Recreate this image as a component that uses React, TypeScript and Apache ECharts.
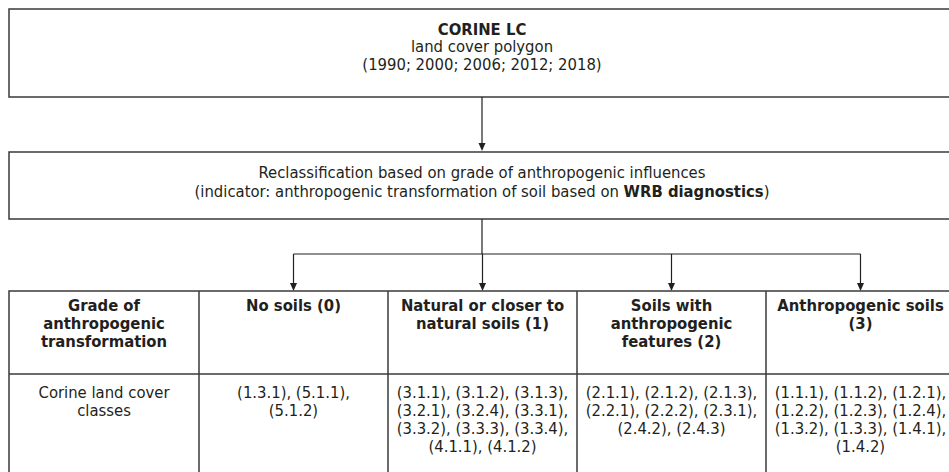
import React, { useEffect, useRef } from "react";
import * as echarts from "echarts";

const topBoxLines = ["{b|CORINE LC}", "land cover polygon", "(1990; 2000; 2006; 2012; 2018)"];
const middleBoxLines = [
  "Reclassification based on grade of anthropogenic influences",
  "(indicator: anthropogenic transformation of soil based on {b|WRB diagnostics})",
];
const headers = [
  "Grade of\nanthropogenic\ntransformation",
  "No soils (0)",
  "Natural or closer to\nnatural soils (1)",
  "Soils with\nanthropogenic\nfeatures (2)",
  "Anthropogenic soils\n(3)",
];
const rowLabel = "Corine land cover\nclasses";
const classCells = [
  "(1.3.1), (5.1.1),\n(5.1.2)",
  "(3.1.1), (3.1.2), (3.1.3),\n(3.2.1), (3.2.4), (3.3.1),\n(3.3.2), (3.3.3), (3.3.4),\n(4.1.1), (4.1.2)",
  "(2.1.1), (2.1.2), (2.1.3),\n(2.2.1), (2.2.2), (2.3.1),\n(2.4.2), (2.4.3)",
  "(1.1.1), (1.1.2), (1.2.1),\n(1.2.2), (1.2.3), (1.2.4),\n(1.3.2), (1.3.3), (1.4.1),\n(1.4.2)",
];

const FONT = "'DejaVu Sans Condensed', 'Liberation Sans Narrow', sans-serif";
const INK = "#231f20";
const LINE = "#3a3a3a";
const FS = 16.5;

export default function App() {
  const ref = useRef<HTMLDivElement>(null);
  useEffect(() => {
    if (!ref.current) return;
    const chart = echarts.init(ref.current, null, { renderer: "svg" });

    const L = 9;
    const R = 955;
    const cx = 482;
    const colX = [9, 199, 388, 577, 766, 955];
    const tableTop = 291;
    const headBottom = 374;
    const tableBottom = 490;
    const branchY = 254;

    const els: any[] = [];
    const box = (y1: number, y2: number) =>
      els.push({
        type: "rect",
        shape: { x: L, y: y1, width: R - L, height: y2 - y1 },
        style: { fill: "#fff", stroke: LINE, lineWidth: 1.5 },
      });
    const vline = (x: number, y1: number, y2: number) =>
      els.push({
        type: "line",
        shape: { x1: x, y1, x2: x, y2 },
        style: { stroke: INK, lineWidth: 1.2 },
      });
    const arrow = (x: number, y1: number, y2: number) => {
      vline(x, y1, y2 - 4);
      els.push({
        type: "polygon",
        shape: { points: [[x - 3.5, y2 - 8], [x + 3.5, y2 - 8], [x, y2]] },
        style: { fill: INK },
      });
    };
    const richB = { b: { font: `bold ${FS}px ${FONT}`, fill: INK, lineHeight: 18 } };
    const text = (x: number, y: number, t: string, bold: boolean, lh = 18) =>
      els.push({
        type: "text",
        x,
        y,
        style: {
          text: t,
          font: `${bold ? "bold " : ""}${FS}px ${FONT}`,
          fill: INK,
          align: "center",
          verticalAlign: "top",
          lineHeight: lh,
          rich: richB,
        },
      });

    box(9, 97);
    box(152, 219);

    text(cx, 20, topBoxLines.join("\n"), false, 17.5);
    text(cx, 163, middleBoxLines.join("\n"), false, 19);

    arrow(cx, 97, 151);
    vline(cx, 219, branchY);
    els.push({
      type: "line",
      shape: {
        x1: (colX[1] + colX[2]) / 2,
        y1: branchY,
        x2: (colX[4] + colX[5]) / 2,
        y2: branchY,
      },
      style: { stroke: INK, lineWidth: 1.2 },
    });
    for (let i = 1; i < 5; i++) {
      const x = (colX[i] + colX[i + 1]) / 2;
      arrow(x, branchY, tableTop);
    }

    // table
    els.push({
      type: "rect",
      shape: { x: L, y: tableTop, width: R - L, height: tableBottom - tableTop },
      style: { fill: "none", stroke: LINE, lineWidth: 1.5 },
    });
    els.push({
      type: "line",
      shape: { x1: L, y1: headBottom, x2: R, y2: headBottom },
      style: { stroke: LINE, lineWidth: 1.5 },
    });
    for (let i = 1; i < 5; i++) {
      els.push({
        type: "line",
        shape: { x1: colX[i], y1: tableTop, x2: colX[i], y2: tableBottom },
        style: { stroke: LINE, lineWidth: 1.5 },
      });
    }
    headers.forEach((h, i) => {
      const x = (colX[i] + colX[i + 1]) / 2;
      text(x, 296, h, true);
    });
    text((colX[0] + colX[1]) / 2, 383, rowLabel, false);
    classCells.forEach((c, i) => {
      const x = (colX[i + 1] + colX[i + 2]) / 2;
      text(x, 383, c, false);
    });

    chart.setOption({
      animation: false,
      backgroundColor: "#fff",
      graphic: { elements: els },
    });
    return () => chart.dispose();
  }, []);

  return (
    <div
      ref={ref}
      style={{ position: "fixed", left: 0, top: 0, width: 949, height: 472, background: "#fff" }}
    />
  );
}
